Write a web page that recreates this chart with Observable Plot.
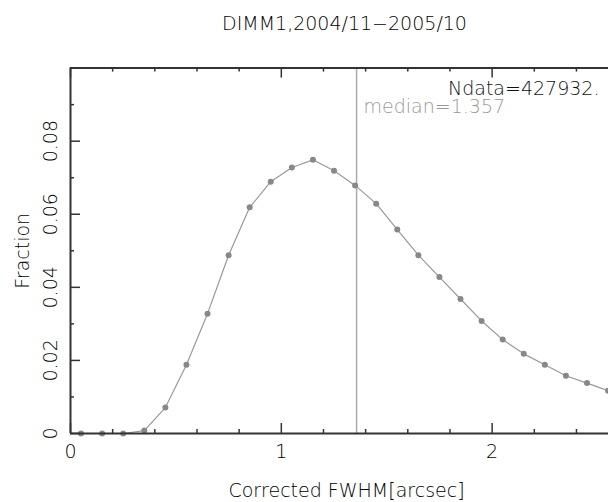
<!DOCTYPE html>
<html>
<head>
<meta charset="utf-8">
<script src="https://cdn.jsdelivr.net/npm/d3@7"></script>
<script src="https://cdn.jsdelivr.net/npm/@observablehq/plot@0.6"></script>
<style>
  html, body { margin: 0; padding: 0; background: #fff; overflow: hidden; }
  #chart svg { display: block; }
</style>
</head>
<body>
<div id="chart"></div>
<script>
// ---- data ----
const binCenters = [0.05, 0.15, 0.25, 0.35, 0.45, 0.55, 0.65, 0.75, 0.85, 0.95,
                    1.05, 1.15, 1.25, 1.35, 1.45, 1.55, 1.65, 1.75, 1.85, 1.95,
                    2.05, 2.15, 2.25, 2.35, 2.45, 2.55];
const fraction   = [0, 0, 0, 0.0008, 0.0071, 0.0188, 0.0328, 0.0488, 0.0619, 0.0689,
                    0.0728, 0.0749, 0.0719, 0.0679, 0.0629, 0.0558, 0.0488, 0.0428, 0.0368, 0.0308,
                    0.0257, 0.0218, 0.0188, 0.0158, 0.0138, 0.0117];
const medianValue = 1.357;
const titleText = "DIMM1,2004/11\u22122005/10";
const ndataText = "Ndata=427932.";
const medianText = "median=1.357";
const xLabelText = "Corrected FWHM[arcsec]";
const yLabelText = "Fraction";
const xTickValues = [0, 1, 2];
const xTickLabels = ["0", "1", "2"];
const xMinorTicks = [0.2, 0.4, 0.6, 0.8, 1.2, 1.4, 1.6, 1.8, 2.2, 2.4];
const yTickValues = [0, 0.02, 0.04, 0.06, 0.08];
const yTickLabels = ["0", "0.02", "0.04", "0.06", "0.08"];
const yMinorTicks = [0.01, 0.03, 0.05, 0.07, 0.09];

const data = binCenters.map((x, i) => ({x, y: fraction[i]}));

// ---- layout ----
const W = 608, H = 502;
const mL = 70, mR = 0, mT = 67.6, mB = 69;
const fW = W - mL - mR, fH = H - mT - mB;
const major = 10, minor = 4;
const axisColor = "#333";
const textColor = "#000";

const chart = Plot.plot({
  width: W, height: H,
  marginLeft: mL, marginRight: mR, marginTop: mT, marginBottom: mB,
  x: {domain: [0, 2.552], axis: null},
  y: {domain: [0, 0.1], axis: null},
  style: {fontFamily: "'DejaVu Sans'", fontSize: "19px", fontWeight: 200, background: "#fff", color: "#000"},
  marks: [
    // median line
    Plot.ruleX([medianValue], {stroke: "#aaa", strokeWidth: 1.5}),
    // data
    Plot.line(data, {x: "x", y: "y", stroke: "#999", strokeWidth: 1.2}),
    Plot.dot(data, {x: "x", y: "y", r: 3, fill: "#888", stroke: "none"}),
    // frame: left, bottom, top
    Plot.ruleX([0], {stroke: axisColor, strokeWidth: 2}),
    Plot.ruleY([0, 0.1], {stroke: axisColor, strokeWidth: 2}),
    // bottom ticks (inward)
    Plot.ruleX(xTickValues, {x: d => d, insetTop: fH - major, stroke: axisColor, strokeWidth: 1.5}),
    Plot.ruleX(xMinorTicks, {x: d => d, insetTop: fH - minor, stroke: axisColor, strokeWidth: 1.5}),
    // top ticks (inward)
    Plot.ruleX(xTickValues, {x: d => d, insetBottom: fH - major, stroke: axisColor, strokeWidth: 1.5}),
    Plot.ruleX(xMinorTicks, {x: d => d, insetBottom: fH - minor, stroke: axisColor, strokeWidth: 1.5}),
    // left ticks (inward)
    Plot.ruleY(yTickValues, {y: d => d, insetRight: fW - major, stroke: axisColor, strokeWidth: 1.5}),
    Plot.ruleY(yMinorTicks, {y: d => d, insetRight: fW - minor, stroke: axisColor, strokeWidth: 1.5}),
    // tick labels
    Plot.text(xTickValues, {x: d => d, frameAnchor: "bottom", dy: 18.5, text: (d, i) => xTickLabels[i],
      textAnchor: "middle", lineAnchor: "middle", fill: textColor}),
    Plot.text(yTickValues, {y: d => d, frameAnchor: "left", dx: -19.3, rotate: -90, text: (d, i) => yTickLabels[i],
      textAnchor: "middle", lineAnchor: "middle", fill: textColor}),
    // axis labels
    Plot.text([xLabelText], {frameAnchor: "bottom", dx: 7, dy: 57, text: d => d,
      textAnchor: "middle", lineAnchor: "middle", fill: textColor}),
    Plot.text([yLabelText], {frameAnchor: "left", dx: -47.5, rotate: -90, text: d => d,
      textAnchor: "middle", lineAnchor: "middle", fill: textColor}),
    // title
    Plot.text([titleText], {frameAnchor: "top", dx: 5, dy: -44, text: d => d,
      textAnchor: "middle", lineAnchor: "middle", fill: textColor}),
    // annotations
    Plot.text([ndataText], {frameAnchor: "top-right", dx: -9, dy: 20.7, text: d => d,
      textAnchor: "end", lineAnchor: "middle", fill: "#111"}),
    Plot.text([medianValue], {x: d => d, frameAnchor: "top", dx: 7, dy: 38.4, text: () => medianText,
      textAnchor: "start", lineAnchor: "middle", fill: "#999"})
  ]
});
document.getElementById("chart").appendChild(chart);
</script>
</body>
</html>
